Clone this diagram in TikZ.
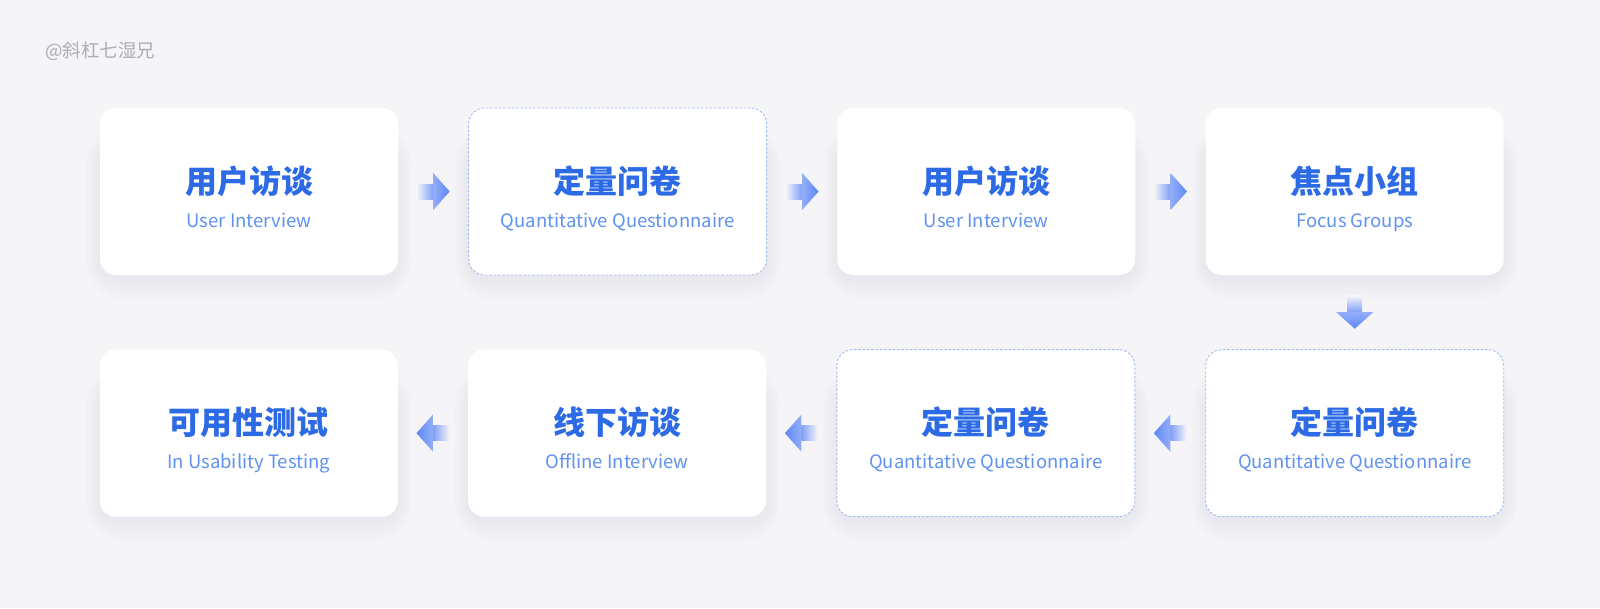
\documentclass[tikz,border=0pt]{standalone}
\usepackage{fontspec}
\setmainfont{Noto Sans CJK SC}
\usetikzlibrary{positioning, calc, backgrounds}
\definecolor{pagebg}{HTML}{F5F5F8}
\definecolor{cardshadow}{HTML}{DCDBEF}
\definecolor{titleblue}{HTML}{2C6AE6}
\definecolor{subblue}{HTML}{6092F0}
\definecolor{dashblue}{HTML}{A3BBF3}
\definecolor{arrowblue}{HTML}{5F88F6}
\definecolor{arrowlight}{HTML}{93AEF9}
\definecolor{markgray}{HTML}{ADADB2}
\tikzset{
  stepcard/.style={rectangle, rounded corners=16pt, minimum width=298pt, minimum height=167pt,
                   fill=white, inner sep=0pt},
  dashcard/.style={stepcard, draw=dashblue, line width=0.9pt, dash pattern=on 2.5pt off 1.8pt},
  titletext/.style={anchor=base, text=titleblue, font=\fontsize{32}{32}\selectfont\bfseries},
  subtext/.style={anchor=base, text=subblue, font=\fontsize{18.5}{18.5}\selectfont},
  % #1 = direction the arrow points to
  pics/flowarrow/.style={code={
    \pgfmathsetmacro\shadeang{#1+90}
    \shade[left color=pagebg, right color=arrowblue!80, shading angle=\shadeang]
        ($(#1+180:16.5)+(#1+90:7.5)$) -- ($(#1+180:16.5)+(#1-90:7.5)$)
        -- (#1-90:7.5) -- (#1+90:7.5) -- cycle;
    \shade[left color=arrowlight, right color=arrowblue, shading angle=\shadeang]
        (#1+90:18.5) -- (#1:16.5) -- (#1-90:18.5) -- cycle;
  }}
}

\begin{document}
\begin{tikzpicture}[x=1pt, y=1pt]
    \useasboundingbox (0,0) rectangle (1600,-608);

    % Step cards - two rows
    \node[stepcard] (b1) at (249,-191.5) {};
    \node[dashcard, right=70pt of b1] (b2) {};
    \node[stepcard, right=70pt of b2] (b3) {};
    \node[stepcard, right=70pt of b3] (b4) {};

    \node[dashcard, below=74pt of b4] (b8) {};
    \node[dashcard, left=70pt of b8] (b7) {};
    \node[stepcard, left=70pt of b7] (b6) {};
    \node[stepcard, left=70pt of b6] (b5) {};

    % Card texts
    \foreach \n/\t/\s in {b1/用户访谈/User Interview, b2/定量问卷/Quantitative Questionnaire,
                          b3/用户访谈/User Interview, b4/焦点小组/Focus Groups,
                          b5/可用性测试/In Usability Testing, b6/线下访谈/Offline Interview,
                          b7/定量问卷/Quantitative Questionnaire, b8/定量问卷/Quantitative Questionnaire} {
        \node[titletext] (\n-t) at ([yshift=-1.5pt]\n.center) {\t};
        \node[subtext] (\n-s) at ([yshift=-35.5pt]\n.center) {\s};
    }

    % Arrows
    \pic at ($(b1.east)!0.5!(b2.west)$) {flowarrow=0};
    \pic at ($(b2.east)!0.5!(b3.west)$) {flowarrow=0};
    \pic at ($(b3.east)!0.5!(b4.west)$) {flowarrow=0};
    \pic at ($(b4.south)!0.5!(b8.north)$) {flowarrow=-90};
    \pic at ($(b8.west)!0.5!(b7.east)$) {flowarrow=180};
    \pic at ($(b7.west)!0.5!(b6.east)$) {flowarrow=180};
    \pic at ($(b6.west)!0.5!(b5.east)$) {flowarrow=180};

    % Watermark
    \node[anchor=base west, inner sep=0pt, text=markgray, font=\fontsize{18.5}{18.5}\selectfont] (mark) at (45,-57) {@斜杠七湿兄};

    % Page and soft shadows
    \begin{scope}[on background layer]
        \fill[pagebg] (0,0) rectangle (1600,-608);
        \foreach \n in {b1,b2,b3,b4,b5,b6,b7,b8} {
            \foreach \s in {2,4,...,22} {
                \fill[cardshadow, opacity=0.045, rounded corners=16pt+\s pt]
                    ($(\n.south west)+(-0.6*\s,-\s-2)$) rectangle ($(\n.north east)+(0.6*\s,-40+\s)$);
            }
        }
    \end{scope}
\end{tikzpicture}
\end{document}
